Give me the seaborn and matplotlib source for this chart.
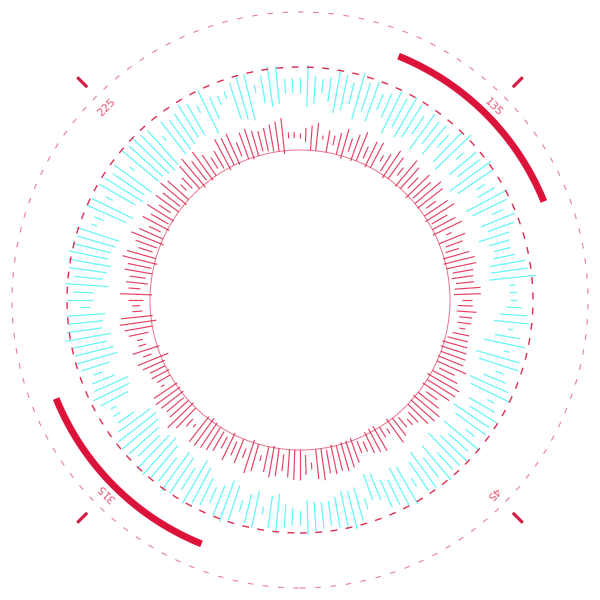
import numpy as np
import pandas as pd
import matplotlib.pyplot as plt
import seaborn as sns

# bar angles in degrees, 0 at the bottom, counter-clockwise
angles = list(range(0, 360, 2))

# inner (pink/red) ring, radius in px
red_inner = [
    150, 155, 163, 150, 150, 152, 148, 150, 148, 148, 147, 152, 155, 147, 146,
    146, 150, 155, 147, 150, 153, 160, 156, 150, 149, 148, 150, 156, 148, 150,
    147, 150, 155, 150, 149, 150, 148, 148, 152, 156, 162, 159, 160, 157, 158,
    162, 154, 155, 157, 153, 155, 150, 148, 149, 153, 155, 150, 160, 148, 150,
    152, 148, 150, 156, 149, 150, 152, 147, 155, 150, 148, 158, 150, 147, 152,
    160, 150, 148, 155, 150, 148, 156, 147, 150, 158, 150, 162, 150, 150, 158,
    162, 162, 162, 147, 150, 151, 152, 153, 150, 148, 150, 155, 148, 150, 147,
    152, 155, 150, 148, 152, 147, 150, 155, 158, 150, 148, 152, 150, 156, 149,
    152, 148, 155, 150, 147, 152, 155, 150, 147, 152, 150, 156, 153, 160, 148,
    157, 160, 158, 148, 145, 150, 155, 162, 160, 148, 158, 142, 148, 150, 148,
    150, 160, 148, 148, 148, 152, 150, 148, 150, 160, 162, 148, 146, 148, 150,
    152, 155, 148, 155, 150, 158, 147, 150, 160, 150, 148, 150, 155, 150, 150,
]
red_outer = [
    180, 175, 170, 180, 182, 176, 178, 176, 178, 176, 173, 165, 166, 170, 172,
    174, 162, 161, 176, 172, 166, 168, 170, 178, 181, 182, 176, 170, 180, 183,
    184, 178, 172, 182, 176, 176, 175, 174, 173, 173, 168, 173, 173, 177, 173,
    172, 181, 181, 175, 175, 176, 180, 180, 176, 167, 173, 178, 166, 180, 176,
    170, 182, 178, 168, 181, 184, 176, 180, 170, 178, 182, 168, 176, 180, 172,
    167, 178, 176, 168, 181, 176, 170, 178, 172, 168, 172, 166, 178, 175, 172,
    167, 168, 168, 183, 180, 178, 176, 174, 176, 180, 178, 170, 182, 180, 182,
    172, 168, 175, 183, 176, 184, 180, 170, 166, 178, 182, 174, 178, 170, 180,
    172, 178, 168, 176, 182, 175, 170, 180, 183, 176, 178, 172, 175, 172, 180,
    172, 168, 168, 180, 182, 178, 175, 168, 168, 176, 167, 175, 172, 167, 168,
    165, 164, 176, 178, 176, 174, 175, 184, 178, 170, 166, 180, 180, 178, 177,
    174, 168, 178, 170, 176, 168, 182, 178, 166, 176, 180, 178, 172, 178, 180,
]

# outer (cyan) ring, radius in px
cyan_inner = [
    210, 200, 202, 203, 203, 200, 195, 197, 195, 208, 185, 187, 197, 200, 190,
    193, 210, 195, 188, 200, 190, 205, 185, 195, 200, 188, 210, 192, 185, 200,
    195, 212, 190, 186, 198, 208, 188, 183, 210, 188, 198, 210, 195, 200, 207,
    210, 210, 210, 190, 193, 193, 198, 200, 197, 188, 200, 195, 210, 192, 188,
    205, 208, 190, 185, 200, 195, 210, 188, 192, 205, 190, 198, 186, 200, 192,
    188, 196, 185, 200, 205, 190, 198, 188, 202, 194, 190, 200, 208, 197, 193,
    207, 207, 207, 197, 195, 200, 212, 185, 188, 190, 214, 210, 198, 185, 212,
    190, 192, 188, 186, 185, 208, 182, 180, 182, 185, 184, 210, 183, 188, 185,
    190, 212, 186, 190, 212, 216, 190, 192, 195, 196, 192, 195, 198, 192, 207,
    207, 210, 195, 198, 200, 192, 198, 192, 190, 200, 210, 200, 188, 190, 195,
    212, 212, 200, 185, 183, 185, 190, 195, 188, 185, 190, 200, 188, 190, 198,
    185, 190, 198, 205, 200, 192, 195, 208, 200, 195, 210, 198, 195, 205, 208,
]
cyan_outer = [
    225, 235, 232, 230, 228, 231, 233, 236, 230, 220, 213, 216, 227, 228, 232,
    236, 220, 230, 232, 225, 235, 228, 230, 232, 226, 234, 222, 230, 228, 232,
    225, 220, 233, 228, 222, 216, 230, 228, 216, 230, 223, 215, 230, 228, 222,
    217, 217, 216, 237, 230, 229, 220, 217, 218, 220, 228, 232, 222, 230, 234,
    225, 218, 232, 236, 228, 230, 220, 238, 232, 222, 228, 226, 230, 222, 230,
    234, 228, 232, 226, 222, 232, 228, 236, 224, 230, 233, 225, 222, 225, 235,
    223, 222, 222, 235, 236, 228, 220, 233, 233, 228, 222, 220, 222, 233, 220,
    226, 230, 225, 222, 226, 214, 228, 229, 232, 230, 233, 216, 230, 226, 230,
    232, 220, 232, 234, 222, 222, 235, 232, 234, 236, 235, 233, 227, 235, 227,
    233, 220, 233, 233, 235, 238, 232, 232, 232, 230, 220, 224, 225, 230, 226,
    218, 220, 220, 225, 230, 232, 230, 225, 234, 235, 232, 230, 236, 233, 224,
    235, 230, 228, 222, 232, 236, 232, 220, 230, 233, 218, 230, 234, 228, 226,
]

# highlighted arcs and corner labels (degrees)
arc_spans = [(112, 158), (292, 338)]
corner_labels = [45, 135, 225, 315]

sns.set_theme(style="white")
plt.rcParams["lines.scale_dashes"] = False
crimson = "#dc143c"

fig = plt.figure(figsize=(6, 6), dpi=100)
# axes a bit larger than the figure so 1 data unit = 1 px
ax = fig.add_axes([-20 / 600, -20 / 600, 640 / 600, 640 / 600], projection="polar")
ax.set_theta_zero_location("S")
ax.set_theta_direction(1)
ax.set_ylim(0, 320)
ax.set_axis_off()

bars = pd.DataFrame({
    "theta": np.deg2rad(angles),
    "red_in": red_inner, "red_out": red_outer,
    "cyan_in": cyan_inner, "cyan_out": cyan_outer,
})

ax.vlines(bars["theta"], bars["cyan_in"], bars["cyan_out"],
          colors="#55f5f5", lw=0.9, alpha=0.9)
ax.vlines(bars["theta"], bars["red_in"], bars["red_out"],
          colors=crimson, lw=0.85, alpha=0.8)

# circles
full = np.linspace(0, 2 * np.pi, 721)
circles = [
    (150, "-", 0.7, 0.6),
    (233, (0, (5, 6)), 1.0, 0.9),
    (288, (0, (4, 7)), 0.8, 0.55),
]
for r, ls, lw, a in circles:
    df = pd.DataFrame({"t": full, "r": np.full_like(full, r)})
    sns.lineplot(data=df, x="t", y="r", ax=ax, color=crimson, lw=lw,
                 alpha=a, linestyle=ls, sort=False, estimator=None)

# thick arcs
for start, end in arc_spans:
    t = np.deg2rad(np.linspace(start, end, 100))
    df = pd.DataFrame({"t": t, "r": np.full_like(t, 263)})
    sns.lineplot(data=df, x="t", y="r", ax=ax, color=crimson, lw=5,
                 sort=False, estimator=None, solid_capstyle="butt")

# corner ticks and labels
for a in corner_labels:
    t = np.deg2rad(a)
    ax.plot([t, t], [301, 315], color=crimson, lw=2.2, solid_capstyle="butt")
    ax.text(t, 273, str(a), color=crimson, alpha=0.7, fontsize=8,
            rotation=a - 180, rotation_mode="anchor",
            ha="center", va="center")

ax.set_xlabel("")
ax.set_ylabel("")
fig.savefig("out.png", dpi=100)
